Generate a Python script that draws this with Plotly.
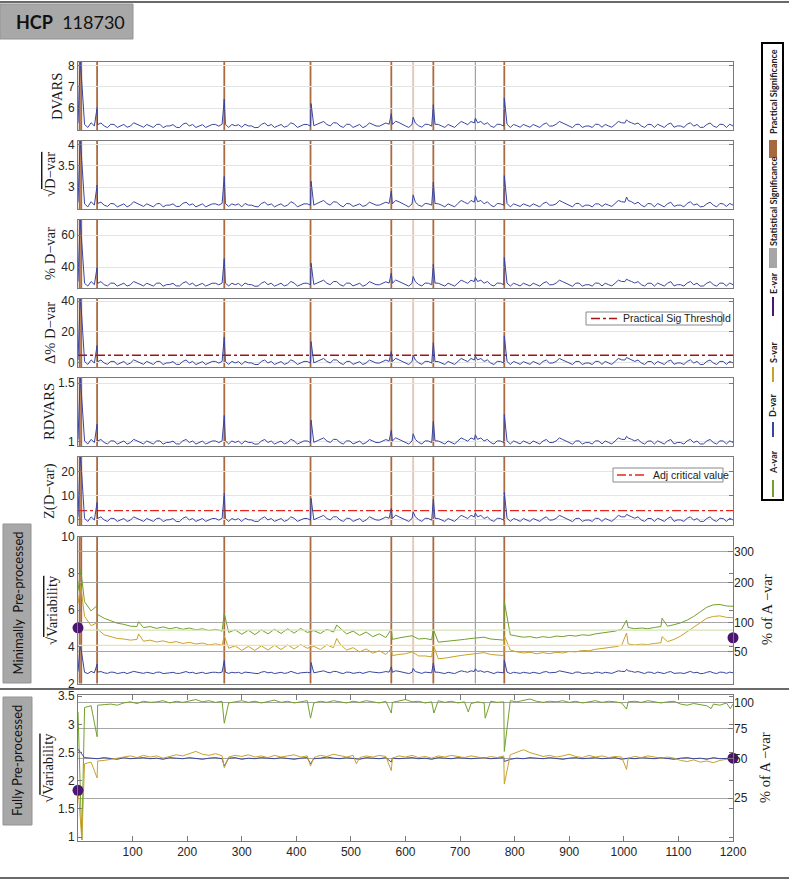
import plotly.graph_objects as go

W, H = 789, 881

# ---------------- data ----------------
# regular frame grid (every 12th volume), in-between samples and spikes listed separately
frames = list(range(0, 1201, 12))
mid_frames = list(range(18, 1200, 12))

top_spike_frames = [4, 6, 35, 268, 427, 574, 614, 651, 728, 781, 1005]

dvars = [
    5.31, 5.24, 5.32, 5.23, 5.17, 5.25, 5.10, 5.24, 5.16, 5.25,
    5.11, 5.18, 5.24, 5.09, 5.17, 5.11, 5.25, 5.17, 5.10, 5.23,
    5.16, 5.24, 5.25, 5.10, 5.18, 5.11, 5.17, 5.09, 5.24, 5.17,
    5.10, 5.24, 5.17, 5.25, 5.16, 5.24, 5.18, 5.31, 5.24, 5.32,
    5.17, 5.25, 5.10, 5.24, 5.17, 5.25, 5.16, 5.31, 5.24, 5.33,
    5.17, 5.24, 5.18, 5.25, 5.16, 5.24, 5.10, 5.17, 5.25, 5.31,
    5.38, 5.32, 5.24, 5.17, 5.25, 5.16, 5.10, 5.18, 5.24, 5.11,
    5.17, 5.24, 5.16, 5.25, 5.31, 5.17, 5.24, 5.10, 5.17, 5.25,
    5.11, 5.17, 5.24, 5.32, 5.38, 5.25, 5.17, 5.24, 5.10, 5.18,
    5.24, 5.11, 5.17, 5.25, 5.16, 5.10, 5.24, 5.17, 5.25, 5.10,
    5.17]
dvars_mid = [
    5.10, 5.17, 5.31, 5.09, 5.24, 5.18, 5.11, 5.32, 5.16,
    5.24, 5.10, 5.25, 5.17, 5.23, 5.09, 5.31, 5.24, 5.17, 5.10,
    5.24, 5.16, 5.25, 5.24, 5.23, 5.25, 5.17, 5.10, 5.31, 5.24,
    5.17, 5.11, 5.32, 5.10, 5.24, 5.16, 5.25, 5.38, 5.17, 5.31,
    5.10, 5.24, 5.18, 5.09, 5.31, 5.17, 5.24, 5.25, 5.39, 5.24,
    5.10, 5.31, 5.11, 5.24, 5.25, 5.17, 5.24, 5.10, 5.38, 5.23,
    5.31, 5.38, 5.32, 5.10, 5.24, 5.25, 5.24, 5.11, 5.17, 5.24,
    5.10, 5.31, 5.17, 5.38, 5.24, 5.09, 5.25, 5.16, 5.10, 5.24,
    5.24, 5.11, 5.38, 5.31, 5.32, 5.31, 5.10, 5.24, 5.25, 5.10,
    5.31, 5.17, 5.10, 5.32, 5.24, 5.11, 5.31, 5.10, 5.24, 5.25]
dvars_spikes = [8.17, 7.60, 6.03, 6.43, 6.22, 5.75, 5.58, 6.17, 5.54, 6.48, 5.46]

sqrt_dvar = [
    2.65, 2.61, 2.66, 2.62, 2.58, 2.62, 2.54, 2.61, 2.58, 2.62,
    2.55, 2.58, 2.61, 2.54, 2.58, 2.55, 2.62, 2.58, 2.54, 2.61,
    2.58, 2.61, 2.62, 2.55, 2.58, 2.54, 2.58, 2.55, 2.62, 2.58,
    2.54, 2.61, 2.58, 2.62, 2.58, 2.61, 2.58, 2.65, 2.62, 2.66,
    2.58, 2.62, 2.55, 2.61, 2.58, 2.62, 2.58, 2.65, 2.61, 2.66,
    2.58, 2.61, 2.58, 2.62, 2.58, 2.61, 2.54, 2.58, 2.62, 2.65,
    2.69, 2.66, 2.61, 2.58, 2.62, 2.58, 2.54, 2.58, 2.61, 2.55,
    2.58, 2.62, 2.58, 2.61, 2.65, 2.58, 2.62, 2.54, 2.58, 2.61,
    2.55, 2.58, 2.62, 2.66, 2.69, 2.61, 2.58, 2.62, 2.54, 2.58,
    2.61, 2.55, 2.58, 2.62, 2.58, 2.54, 2.61, 2.58, 2.62, 2.55,
    2.58]
sqrt_dvar_mid = [
    2.54, 2.58, 2.65, 2.55, 2.61, 2.58, 2.54, 2.66, 2.58,
    2.61, 2.54, 2.62, 2.58, 2.61, 2.55, 2.65, 2.61, 2.58, 2.54,
    2.61, 2.58, 2.62, 2.61, 2.61, 2.62, 2.58, 2.54, 2.65, 2.61,
    2.58, 2.55, 2.66, 2.54, 2.61, 2.58, 2.62, 2.69, 2.58, 2.65,
    2.54, 2.61, 2.58, 2.55, 2.65, 2.58, 2.61, 2.62, 2.69, 2.61,
    2.54, 2.65, 2.55, 2.61, 2.62, 2.58, 2.61, 2.54, 2.69, 2.61,
    2.65, 2.69, 2.66, 2.54, 2.61, 2.62, 2.61, 2.55, 2.58, 2.61,
    2.54, 2.65, 2.58, 2.69, 2.61, 2.54, 2.62, 2.58, 2.54, 2.61,
    2.61, 2.55, 2.69, 2.65, 2.66, 2.65, 2.54, 2.61, 2.62, 2.54,
    2.65, 2.58, 2.54, 2.66, 2.61, 2.55, 2.65, 2.54, 2.61, 2.62]
sqrt_dvar_spikes = [4.08, 3.80, 3.05, 3.25, 3.14, 2.91, 2.82, 3.12, 2.80, 3.27, 2.77]

pct_dvar = [
    30.9, 29.9, 31.0, 29.8, 29.0, 30.0, 28.1, 29.9, 28.9, 30.0,
    28.2, 29.0, 29.9, 28.0, 29.1, 28.2, 30.0, 29.0, 28.1, 29.8,
    28.9, 29.9, 30.0, 28.2, 29.0, 28.1, 29.1, 28.0, 29.9, 29.0,
    28.1, 29.9, 29.0, 30.0, 28.9, 29.9, 29.1, 30.9, 29.9, 31.0,
    29.0, 30.0, 28.2, 29.9, 29.0, 30.0, 28.9, 30.8, 29.9, 31.0,
    29.0, 29.9, 29.1, 30.0, 28.9, 29.9, 28.1, 29.0, 30.0, 30.9,
    31.8, 31.0, 29.9, 29.0, 30.0, 28.9, 28.1, 29.1, 29.9, 28.2,
    29.0, 29.9, 28.9, 30.0, 30.9, 29.0, 29.9, 28.1, 29.0, 30.0,
    28.2, 29.0, 29.9, 31.0, 31.8, 30.0, 29.0, 29.9, 28.1, 29.1,
    29.9, 28.2, 29.0, 30.0, 28.9, 28.1, 29.9, 29.0, 30.0, 28.2,
    29.0]
pct_dvar_mid = [
    28.1, 29.0, 30.9, 28.2, 29.9, 29.1, 28.1, 31.0, 29.0,
    29.9, 28.1, 30.0, 29.0, 29.8, 28.2, 30.9, 29.9, 29.0, 28.1,
    29.9, 28.9, 30.0, 29.9, 29.8, 30.0, 29.0, 28.1, 30.9, 29.9,
    29.0, 28.2, 31.0, 28.1, 29.9, 28.9, 30.0, 31.8, 29.0, 30.9,
    28.1, 29.9, 29.1, 28.0, 30.9, 29.0, 29.9, 30.0, 31.9, 29.9,
    28.1, 30.9, 28.2, 29.9, 30.0, 29.0, 29.9, 28.1, 31.8, 29.8,
    30.9, 31.8, 31.0, 28.1, 29.9, 30.0, 29.9, 28.2, 29.0, 29.9,
    28.1, 30.9, 29.0, 31.8, 29.9, 28.0, 30.0, 28.9, 28.1, 29.9,
    29.9, 28.2, 31.8, 30.9, 31.0, 30.9, 28.1, 29.9, 30.0, 28.1,
    30.9, 29.0, 28.1, 31.0, 29.9, 28.2, 30.9, 28.1, 29.9, 30.0]
pct_dvar_spikes = [69.6, 60.0, 40.0, 45.4, 42.5, 36.3, 34.1, 41.9, 33.5, 46.0, 32.5]

delta_pct_dvar = [
    1.9, 1.0, 2.0, 0.9, 0.0, 1.0, -1.0, 1.0, -0.1, 1.0,
    -0.9, 0.0, 1.0, -1.0, 0.1, -0.9, 1.0, 0.0, -1.0, 0.9,
    -0.1, 1.0, 1.0, -0.9, 0.0, -1.0, 0.1, -1.0, 1.0, 0.0,
    -1.0, 0.9, 0.0, 1.0, -0.1, 1.0, 0.1, 1.9, 1.0, 2.0,
    0.0, 1.0, -0.9, 0.9, 0.0, 1.0, -0.1, 1.9, 1.0, 2.0,
    0.0, 1.0, 0.1, 1.0, -0.1, 0.9, -1.0, 0.0, 1.0, 1.9,
    2.9, 2.0, 1.0, 0.0, 1.0, -0.1, -1.0, 0.1, 0.9, -0.9,
    0.0, 1.0, -0.1, 1.0, 1.9, 0.0, 1.0, -1.0, 0.0, 1.0,
    -0.9, 0.0, 1.0, 2.0, 2.9, 1.0, 0.0, 0.9, -1.0, 0.1,
    1.0, -0.9, 0.0, 1.0, -0.1, -1.0, 1.0, 0.0, 1.0, -0.9,
    0.0]
delta_pct_dvar_mid = [
    -1.0, 0.0, 1.9, -0.9, 1.0, 0.1, -1.0, 2.0, 0.0,
    1.0, -1.0, 1.0, 0.0, 0.9, -0.9, 1.9, 1.0, 0.0, -1.0,
    1.0, -0.1, 1.0, 1.0, 0.9, 1.0, 0.0, -1.0, 1.9, 1.0,
    0.0, -0.9, 2.0, -1.0, 1.0, -0.1, 1.0, 2.9, 0.0, 1.9,
    -1.0, 1.0, 0.1, -1.0, 1.9, 0.0, 1.0, 1.0, 3.0, 1.0,
    -1.0, 1.9, -0.9, 1.0, 1.0, 0.0, 1.0, -1.0, 2.9, 0.9,
    1.9, 2.9, 2.0, -1.0, 1.0, 1.0, 1.0, -0.9, 0.0, 1.0,
    -1.0, 1.9, 0.0, 2.9, 1.0, -1.0, 1.0, -0.1, -1.0, 1.0,
    1.0, -0.9, 2.9, 1.9, 2.0, 1.9, -1.0, 1.0, 1.0, -1.0,
    1.9, 0.0, -1.0, 2.0, 1.0, -0.9, 1.9, -1.0, 1.0, 1.0]
delta_pct_dvar_spikes = [41.3, 35.0, 11.3, 16.8, 13.8, 7.4, 5.1, 13.2, 4.5, 17.5, 3.5]

rdvars = [
    1.016, 1.003, 1.017, 1.002, 0.990, 1.004, 0.977, 1.003, 0.989, 1.004,
    0.978, 0.990, 1.003, 0.976, 0.991, 0.978, 1.004, 0.990, 0.977, 1.002,
    0.989, 1.003, 1.004, 0.978, 0.990, 0.977, 0.991, 0.976, 1.003, 0.990,
    0.977, 1.002, 0.990, 1.004, 0.989, 1.003, 0.991, 1.016, 1.003, 1.017,
    0.990, 1.004, 0.978, 1.002, 0.990, 1.004, 0.989, 1.015, 1.003, 1.017,
    0.990, 1.003, 0.991, 1.004, 0.989, 1.003, 0.977, 0.990, 1.004, 1.016,
    1.029, 1.017, 1.003, 0.990, 1.004, 0.989, 0.977, 0.991, 1.003, 0.978,
    0.990, 1.003, 0.989, 1.004, 1.016, 0.990, 1.003, 0.977, 0.990, 1.004,
    0.978, 0.990, 1.003, 1.017, 1.029, 1.004, 0.990, 1.002, 0.977, 0.991,
    1.003, 0.978, 0.990, 1.004, 0.989, 0.977, 1.003, 0.990, 1.004, 0.978,
    0.990]
rdvars_mid = [
    0.977, 0.990, 1.016, 0.978, 1.003, 0.991, 0.977, 1.017, 0.990,
    1.003, 0.977, 1.004, 0.990, 1.002, 0.978, 1.016, 1.003, 0.990, 0.977,
    1.003, 0.989, 1.004, 1.003, 1.002, 1.004, 0.990, 0.977, 1.016, 1.003,
    0.990, 0.978, 1.017, 0.977, 1.003, 0.989, 1.004, 1.029, 0.990, 1.016,
    0.977, 1.003, 0.991, 0.976, 1.016, 0.990, 1.003, 1.004, 1.030, 1.003,
    0.977, 1.016, 0.978, 1.003, 1.004, 0.990, 1.003, 0.977, 1.029, 1.002,
    1.016, 1.029, 1.017, 0.977, 1.003, 1.004, 1.003, 0.978, 0.990, 1.003,
    0.977, 1.016, 0.990, 1.029, 1.003, 0.976, 1.004, 0.989, 0.977, 1.003,
    1.003, 0.978, 1.029, 1.016, 1.017, 1.016, 0.977, 1.003, 1.004, 0.977,
    1.016, 0.990, 0.977, 1.017, 1.003, 0.978, 1.016, 0.977, 1.003, 1.004]
rdvars_spikes = [1.543, 1.43, 1.147, 1.222, 1.182, 1.095, 1.065, 1.173, 1.056, 1.23, 1.043]

z_dvar = [
    1.3, 0.6, 1.3, 0.6, 0.0, 0.7, -0.6, 0.6, -0.1, 0.7,
    -0.6, 0.0, 0.6, -0.7, 0.1, -0.6, 0.7, 0.0, -0.6, 0.6,
    -0.1, 0.6, 0.7, -0.6, 0.0, -0.7, 0.1, -0.6, 0.6, 0.0,
    -0.6, 0.6, 0.0, 0.7, -0.1, 0.6, 0.1, 1.3, 0.6, 1.3,
    0.0, 0.7, -0.6, 0.6, 0.0, 0.7, -0.1, 1.2, 0.6, 1.3,
    0.0, 0.6, 0.1, 0.7, -0.1, 0.6, -0.6, 0.0, 0.7, 1.3,
    1.9, 1.3, 0.6, 0.0, 0.7, -0.1, -0.6, 0.1, 0.6, -0.6,
    0.0, 0.6, -0.1, 0.7, 1.3, 0.0, 0.6, -0.6, 0.0, 0.7,
    -0.6, 0.0, 0.6, 1.3, 1.9, 0.7, 0.0, 0.6, -0.6, 0.1,
    0.6, -0.6, 0.0, 0.7, -0.1, -0.6, 0.6, 0.0, 0.7, -0.6,
    0.0]
z_dvar_mid = [
    -0.6, 0.0, 1.3, -0.6, 0.6, 0.1, -0.6, 1.3, 0.0,
    0.6, -0.6, 0.7, 0.0, 0.6, -0.7, 1.3, 0.6, 0.0, -0.6,
    0.6, -0.1, 0.7, 0.6, 0.6, 0.7, 0.0, -0.6, 1.3, 0.6,
    0.0, -0.6, 1.3, -0.6, 0.6, -0.1, 0.7, 1.9, 0.0, 1.3,
    -0.6, 0.6, 0.1, -0.7, 1.3, 0.0, 0.6, 0.7, 2.0, 0.6,
    -0.6, 1.3, -0.6, 0.6, 0.7, 0.0, 0.6, -0.6, 1.9, 0.6,
    1.3, 1.9, 1.3, -0.6, 0.6, 0.7, 0.6, -0.6, 0.0, 0.6,
    -0.6, 1.3, 0.0, 1.9, 0.6, -0.7, 0.7, -0.1, -0.6, 0.6,
    0.6, -0.6, 1.9, 1.3, 1.3, 1.3, -0.6, 0.6, 0.7, -0.6,
    1.3, 0.0, -0.6, 1.3, 0.6, -0.6, 1.3, -0.6, 0.6, 0.7]
z_dvar_spikes = [26.2, 22.0, 7.3, 11.0, 9.0, 4.8, 3.4, 8.6, 2.9, 11.4, 2.3]

practical_sig_threshold = 5.0
adj_critical_value = 3.9

# minimally pre-processed, sqrt(variability)
min_spike_frames = [5, 35, 111, 268, 474, 574, 651, 781, 1005, 1070]
avar_min = [
    7.05, 6.45, 5.95, 5.75, 5.55, 5.40, 5.28, 5.22, 5.12, 5.10,
    5.04, 5.10, 5.00, 5.08, 4.98, 5.05, 4.95, 5.02, 4.92, 4.98,
    4.88, 4.95, 4.85, 4.78, 4.92, 4.68, 4.90, 4.66, 4.92, 4.70,
    4.95, 4.72, 4.98, 4.74, 5.00, 4.78, 4.88, 4.72, 4.95, 4.80,
    5.02, 4.70, 4.85, 4.62, 4.80, 4.55, 4.70, 4.50, 4.40, 4.48,
    4.52, 4.60, 4.42, 4.45, 4.38, 4.25, 4.28, 4.30, 4.35, 4.40,
    4.45, 4.50, 4.52, 4.42, 4.38, 4.36, 4.65, 4.58, 4.52, 4.55,
    4.48, 4.55, 4.50, 4.58, 4.55, 4.62, 4.58, 4.65, 4.62, 4.70,
    4.75, 4.80, 4.85, 4.95, 5.05, 4.98, 5.02, 4.98, 5.05, 5.10,
    5.12, 5.20, 5.30, 5.45, 5.65, 5.90, 6.15, 6.28, 6.30, 6.22,
    6.20]
avar_min_spikes = [8.2, 6.24, 5.36, 5.82, 5.18, 4.95, 4.95, 6.45, 5.45, 5.55]
svar_min = [
    6.35, 5.65, 5.15, 4.95, 4.65, 4.55, 4.45, 4.42, 4.36, 4.40,
    4.30, 4.36, 4.26, 4.32, 4.22, 4.28, 4.18, 4.24, 4.15, 4.20,
    4.10, 4.16, 4.08, 3.92, 4.05, 3.80, 4.02, 3.80, 4.05, 3.82,
    4.08, 3.85, 4.10, 3.88, 4.12, 3.92, 4.02, 3.85, 4.10, 3.95,
    4.15, 3.82, 3.95, 3.72, 3.88, 3.65, 3.78, 3.58, 3.52, 3.58,
    3.62, 3.72, 3.50, 3.50, 3.45, 3.35, 3.38, 3.42, 3.50, 3.55,
    3.60, 3.65, 3.68, 3.58, 3.55, 3.52, 3.82, 3.72, 3.66, 3.70,
    3.62, 3.68, 3.62, 3.70, 3.66, 3.74, 3.72, 3.80, 3.78, 3.86,
    3.90, 3.95, 4.00, 4.08, 4.15, 4.10, 4.14, 4.12, 4.18, 4.22,
    4.28, 4.40, 4.58, 4.82, 5.05, 5.30, 5.55, 5.65, 5.68, 5.60,
    5.58]
svar_min_spikes = [7.3, 5.30, 4.70, 4.60, 4.45, 3.90, 4.09, 4.60, 4.75, 4.55]
avar_mean_min = 4.9
svar_mean_min = 4.08
evar_min = [5.03, 4.49]          # left / right markers
avar_ref_min = 5.3               # sqrt of A-var reference (100 %)
pct_ticks_min = [50, 100, 200, 300]

# fully pre-processed, sqrt(variability)
avar_full = [
    3.22, 3.30, 3.33, 3.34, 3.35, 3.36, 3.34, 3.38, 3.40, 3.37,
    3.41, 3.39, 3.40, 3.42, 3.38, 3.41, 3.39, 3.42, 3.44, 3.40,
    3.42, 3.39, 3.41, 3.38, 3.40, 3.42, 3.39, 3.41, 3.38, 3.40,
    3.43, 3.39, 3.41, 3.38, 3.40, 3.42, 3.38, 3.41, 3.39, 3.42,
    3.40, 3.38, 3.41, 3.39, 3.42, 3.40, 3.38, 3.41, 3.39, 3.42,
    3.44, 3.40, 3.41, 3.38, 3.40, 3.42, 3.39, 3.41, 3.38, 3.40,
    3.37, 3.40, 3.38, 3.41, 3.39, 3.40, 3.42, 3.40, 3.43, 3.45,
    3.41, 3.39, 3.41, 3.40, 3.42, 3.39, 3.41, 3.38, 3.40, 3.42,
    3.39, 3.41, 3.40, 3.38, 3.40, 3.41, 3.39, 3.42, 3.40, 3.38,
    3.40, 3.41, 3.36, 3.34, 3.37, 3.35, 3.33, 3.36, 3.34, 3.38,
    3.36]
avar_full_spike_frames = [7, 35, 268, 426, 574, 652, 715, 746, 781, 1005, 1160, 1195]
avar_full_spikes = [0.95, 2.78, 3.02, 3.11, 3.20, 3.20, 3.22, 3.11, 2.52, 3.27, 3.28, 3.28]
svar_full = [
    1.90, 2.30, 2.33, 2.35, 2.36, 2.38, 2.40, 2.42, 2.44, 2.41,
    2.45, 2.42, 2.44, 2.40, 2.43, 2.46, 2.44, 2.48, 2.52, 2.47,
    2.45, 2.48, 2.44, 2.42, 2.45, 2.43, 2.46, 2.42, 2.44, 2.41,
    2.45, 2.42, 2.44, 2.46, 2.42, 2.44, 2.41, 2.45, 2.43, 2.47,
    2.44, 2.42, 2.45, 2.41, 2.44, 2.42, 2.45, 2.43, 2.40, 2.44,
    2.42, 2.45, 2.41, 2.43, 2.40, 2.44, 2.42, 2.45, 2.43, 2.41,
    2.44, 2.42, 2.40, 2.43, 2.41, 2.44, 2.46, 2.50, 2.55, 2.50,
    2.46, 2.43, 2.45, 2.42, 2.44, 2.47, 2.43, 2.41, 2.45, 2.42,
    2.44, 2.41, 2.43, 2.42, 2.40, 2.43, 2.41, 2.44, 2.42, 2.40,
    2.42, 2.40, 2.36, 2.34, 2.37, 2.33, 2.35, 2.32, 2.36, 2.38,
    2.40]
svar_full_spike_frames = [7, 35, 268, 426, 510, 574, 781, 1005]
svar_full_spikes = [0.95, 2.05, 2.23, 2.26, 2.30, 2.18, 1.94, 2.20]
dvar_full = [
    2.56, 2.41, 2.40, 2.39, 2.41, 2.40, 2.38, 2.41, 2.39, 2.40,
    2.41, 2.39, 2.40, 2.38, 2.41, 2.40, 2.39, 2.41, 2.40, 2.38,
    2.40, 2.41, 2.39, 2.40, 2.41, 2.38, 2.40, 2.39, 2.41, 2.40,
    2.39, 2.41, 2.40, 2.38, 2.40, 2.41, 2.39, 2.40, 2.42, 2.40,
    2.39, 2.41, 2.40, 2.38, 2.41, 2.40, 2.39, 2.41, 2.40, 2.39,
    2.40, 2.41, 2.39, 2.40, 2.38, 2.41, 2.40, 2.39, 2.41, 2.40,
    2.39, 2.40, 2.41, 2.39, 2.40, 2.41, 2.38, 2.40, 2.39, 2.41,
    2.40, 2.39, 2.41, 2.40, 2.38, 2.40, 2.41, 2.39, 2.40, 2.41,
    2.39, 2.40, 2.41, 2.38, 2.40, 2.39, 2.41, 2.40, 2.39, 2.41,
    2.40, 2.38, 2.40, 2.41, 2.39, 2.40, 2.38, 2.41, 2.39, 2.40,
    2.40]
dvar_full_spike_frames = [268, 426, 574, 781]
dvar_full_spikes = [2.26, 2.30, 2.33, 2.34]
evar_full = [1.83, 2.40]
avar_ref_full = 3.38
pct_ticks_full = [25, 50, 75, 100]

# significant volumes
practical_frames = [3, 6, 35, 268, 426, 574, 651, 781]
weak_practical_frames = [614]
statistical_frames = [728]

x_ticks = [100, 200, 300, 400, 500, 600, 700, 800, 900, 1000, 1100, 1200]

# ---------------- style ----------------
BLUE = "#3845a0"
GREEN = "#74a02c"
GOLD = "#c9a12a"
PURPLE = "#4a1670"
BROWN = "#ad6a3e"
TAN = "rgba(173,106,62,0.35)"
SIG_GRAY = "#a0a0a0"
AX = "#7a7a7a"
SANS = "Liberation Sans, Arial, sans-serif"
SERIF = "Liberation Serif, Times New Roman, serif"
LABEL = "Lato, Open Sans, sans-serif"

X0, X1 = 78, 733
PANELS = [(62, 130), (141, 209), (220, 288), (299, 367), (378, 446),
          (457, 525), (536.5, 683.5), (694.5, 841)]
Y_CFG = [
    dict(range=[4.98, 8.17], tickvals=[6, 7, 8]),
    dict(range=[2.49, 4.08], tickvals=[3, 3.5, 4]),
    dict(range=[26.9, 69.6], tickvals=[40, 60]),
    dict(range=[-2.6, 41.3], tickvals=[0, 20, 40]),
    dict(range=[0.96, 1.543], tickvals=[1, 1.5]),
    dict(range=[-2.1, 26.2], tickvals=[0, 10, 20]),
    dict(range=[2, 10], tickvals=[2, 4, 6, 8, 10]),
    dict(range=[0.93, 3.53], tickvals=[1, 1.5, 2, 2.5, 3, 3.5]),
]
OVER = "<span style='text-decoration:overline'>{}</span>"
Y_TITLES = ["DVARS", "√" + OVER.format("D−var"), "% D−var", "Δ% D−var",
            "RDVARS", "Z(D−var)", "√" + OVER.format("Variability"),
            "√" + OVER.format("Variability")]
Y_TITLE_X = [57, 50, 50, 50, 49, 50, 52, 48]


def xd(px):
    return px / W


def yd(py):
    return 1 - py / H


def sid(k):
    return "" if k == 1 else str(k)


def merge(ys, sx, sy, mids=None):
    xs_all = frames + sx + (mid_frames if mids else [])
    ys_all = ys + sy + (mids or [])
    pts = sorted(zip(xs_all, ys_all))
    return [p[0] for p in pts], [p[1] for p in pts]


def line_trace(k, xs, ys, color, width=1.0, dash=None, yax=None):
    return go.Scatter(x=xs, y=ys, mode="lines", xaxis="x" + sid(k),
                      yaxis=yax or ("y" + sid(k)),
                      line=dict(color=color, width=width, dash=dash),
                      hoverinfo="skip", showlegend=False)


fig = go.Figure()

# top six D-var panels
top_series = [(dvars, dvars_mid, dvars_spikes), (sqrt_dvar, sqrt_dvar_mid, sqrt_dvar_spikes),
              (pct_dvar, pct_dvar_mid, pct_dvar_spikes),
              (delta_pct_dvar, delta_pct_dvar_mid, delta_pct_dvar_spikes),
              (rdvars, rdvars_mid, rdvars_spikes), (z_dvar, z_dvar_mid, z_dvar_spikes)]
for k, (ys, mids, sp) in enumerate(top_series, start=1):
    if k == 4:
        fig.add_trace(line_trace(k, [frames[0], frames[-1]],
                                 [practical_sig_threshold, practical_sig_threshold],
                                 "#a31515", 1.3, "dashdot"))
    if k == 6:
        fig.add_trace(line_trace(k, [frames[0], frames[-1]],
                                 [adj_critical_value, adj_critical_value],
                                 "#e0281c", 1.3, "dashdot"))
    xs, yv = merge(ys, top_spike_frames, sp, mids)
    fig.add_trace(line_trace(k, xs, yv, BLUE))

# minimally pre-processed (reference lines on the overlaid % axis, same range as the left axis)
fig.add_trace(line_trace(7, [frames[0], frames[-1]], [avar_mean_min, avar_mean_min], "#d6e4b8", 1.2, yax="y9"))
fig.add_trace(line_trace(7, [frames[0], frames[-1]], [svar_mean_min, svar_mean_min], "#eee0a8", 1.2, yax="y9"))
xs, yv = merge(avar_min, min_spike_frames, avar_min_spikes)
fig.add_trace(line_trace(7, xs, yv, GREEN))
xs, yv = merge(svar_min, min_spike_frames, svar_min_spikes)
fig.add_trace(line_trace(7, xs, yv, GOLD))
xs, yv = merge(sqrt_dvar, top_spike_frames, sqrt_dvar_spikes, sqrt_dvar_mid)
fig.add_trace(line_trace(7, xs, yv, BLUE))

# fully pre-processed
xs, yv = merge(avar_full, avar_full_spike_frames, avar_full_spikes)
fig.add_trace(line_trace(8, xs, yv, GREEN))
xs, yv = merge(dvar_full, dvar_full_spike_frames, dvar_full_spikes)
fig.add_trace(line_trace(8, xs, yv, BLUE))
xs, yv = merge(svar_full, svar_full_spike_frames, svar_full_spikes)
fig.add_trace(line_trace(8, xs, yv, GOLD))

# E-var markers (on the overlaid % axes)
for k, ev, yax in ((7, evar_min, "y9"), (8, evar_full, "y10")):
    fig.add_trace(go.Scatter(x=[frames[0], frames[-1]], y=ev, mode="markers",
                             xaxis="x" + sid(k), yaxis=yax, cliponaxis=False,
                             marker=dict(color=PURPLE, size=11, symbol="circle"),
                             hoverinfo="skip", showlegend=False))

layout = {}
tick_font = dict(family=SANS, size=12, color="#262626")
for k, (top, bot) in enumerate(PANELS, start=1):
    xa = dict(domain=[xd(X0), xd(X1)], range=[0, 1200], anchor="y" + sid(k), automargin=False,
              showline=True, mirror=True, linecolor=AX, linewidth=1,
              showgrid=False, zeroline=False, showticklabels=False, ticks="")
    if k == 8:
        xa.update(showticklabels=True, ticks="inside", ticklen=5, tickcolor=AX,
                  tickvals=x_ticks, mirror="ticks", tickfont=tick_font)
    layout["xaxis" + sid(k)] = xa
    ya = dict(domain=[yd(bot), yd(top)], anchor="x" + sid(k), showline=True, automargin=False,
              mirror="ticks", linecolor=AX, linewidth=1, zeroline=False,
              ticks="inside", ticklen=4, tickcolor=AX, tickfont=tick_font,
              showgrid=k < 7, gridcolor="#e4e4e4", **Y_CFG[k - 1])
    layout["yaxis" + sid(k)] = ya

for k, ref, pct, new in ((7, avar_ref_min, pct_ticks_min, 9), (8, avar_ref_full, pct_ticks_full, 10)):
    layout["yaxis" + str(new)] = dict(
        overlaying="y" + str(k), anchor="x" + str(k), side="right", automargin=False,
        range=Y_CFG[k - 1]["range"],
        tickvals=[ref * (p / 100) ** 0.5 for p in pct], ticktext=[str(p) for p in pct],
        ticks="inside", ticklen=5, tickcolor=AX, tickfont=tick_font,
        showgrid=True, gridcolor="#a6a6a6", zeroline=False, showline=False)

shapes = []
annotations = []

# significance markers (top seven panels)
for k in range(1, 8):
    for group, color, width in ((practical_frames, BROWN, 1.8), (weak_practical_frames, TAN, 2),
                                (statistical_frames, SIG_GRAY, 1.2)):
        for f in group:
            shapes.append(dict(type="line", xref="x" + sid(k), yref="y" + sid(k) + " domain",
                               x0=f, x1=f, y0=0, y1=1, layer="below",
                               line=dict(color=color, width=width)))

# y titles
for k, (top, bot) in enumerate(PANELS, start=1):
    annotations.append(dict(text=Y_TITLES[k - 1], x=xd(Y_TITLE_X[k - 1]), y=yd((top + bot) / 2),
                            xref="paper", yref="paper", textangle=-90, showarrow=False,
                            xanchor="center", yanchor="middle",
                            font=dict(family=SERIF, size=14.5, color="#1a1a1a")))
for py, px in ((610, 767), (768, 765)):
    annotations.append(dict(text="% of A −var", x=xd(px), y=yd(py), xref="paper", yref="paper",
                            textangle=-90, showarrow=False, xanchor="center", yanchor="middle",
                            font=dict(family=SERIF, size=14.5, color="#1a1a1a")))

# in-panel legend boxes
for (bx0, by0, bx1, by1), (lx0, lx1), color, label in (
        ((586, 312, 722, 325), (591, 617), "#a31515", "Practical Sig Threshold"),
        ((613, 468, 723, 482), (617, 647), "#e0281c", "Adj critical value")):
    shapes.append(dict(type="rect", xref="paper", yref="paper", x0=xd(bx0), x1=xd(bx1),
                       y0=yd(by1), y1=yd(by0), fillcolor="white",
                       line=dict(color="#8a8a8a", width=1), layer="above"))
    ym = yd((by0 + by1) / 2)
    shapes.append(dict(type="line", xref="paper", yref="paper", x0=xd(lx0), x1=xd(lx1),
                       y0=ym, y1=ym, line=dict(color=color, width=1.3, dash="dashdot"),
                       layer="above"))
    annotations.append(dict(text=label, x=xd(lx1 + 4), y=ym, xref="paper", yref="paper",
                            xanchor="left", yanchor="middle", showarrow=False,
                            font=dict(family=SANS, size=10.5, color="#222")))

# right legend
shapes.append(dict(type="rect", xref="paper", yref="paper", x0=xd(762), x1=xd(783),
                   y0=yd(500), y1=yd(43), line=dict(color="black", width=2)))
for (a, b), color, center, label in (((480, 497), GREEN, 462, "A-var"),
                                     ((422, 437), BLUE, 406, "D-var"),
                                     ((367, 382), GOLD, 352, "S-var"),
                                     ((297, 316), PURPLE, 283, "E-var")):
    shapes.append(dict(type="line", xref="paper", yref="paper", x0=xd(773), x1=xd(773),
                       y0=yd(b), y1=yd(a), line=dict(color=color, width=2)))
    annotations.append(dict(text="<b>%s</b>" % label, x=xd(773), y=yd(center), xref="paper",
                            yref="paper", textangle=-90, showarrow=False,
                            xanchor="center", yanchor="middle",
                            font=dict(family=LABEL, size=9, color="#222")))
for (a, b), color, center, label in (((248, 268), "#a6a6a6", 202, "Statistical Significance"),
                                     ((140, 158), "#a8683e", 92, "Practical Significance")):
    shapes.append(dict(type="rect", xref="paper", yref="paper", x0=xd(769), x1=xd(777),
                       y0=yd(b), y1=yd(a), fillcolor=color, line=dict(width=0)))
    annotations.append(dict(text="<b>%s</b>" % label, x=xd(773), y=yd(center), xref="paper",
                            yref="paper", textangle=-90, showarrow=False,
                            xanchor="center", yanchor="middle",
                            font=dict(family=LABEL, size=9, color="#222")))

# header / side boxes and separators
for x0, y0, x1, y1 in ((0, 4, 133, 39), (3, 524, 31, 683), (3, 697, 32, 825)):
    shapes.append(dict(type="rect", xref="paper", yref="paper", x0=xd(x0), x1=xd(x1),
                       y0=yd(y1), y1=yd(y0), fillcolor="#a8a8a8",
                       line=dict(color="#939393", width=1)))
annotations.append(dict(text="<b>HCP</b>\u00a0\u00a0118730", x=xd(14), y=yd(21.5), xref="paper",
                        yref="paper", xanchor="left", yanchor="middle", showarrow=False,
                        font=dict(family=LABEL, size=18, color="#111")))
for label, py in (("Minimally  Pre-processed", 603.5), ("Fully Pre-processed", 761)):
    annotations.append(dict(text=label, x=xd(17), y=yd(py), xref="paper", yref="paper",
                            textangle=-90, showarrow=False, xanchor="center", yanchor="middle",
                            font=dict(family=LABEL, size=13, color="#111")))
for py in (2, 689, 878):
    shapes.append(dict(type="line", xref="paper", yref="paper", x0=0, x1=1, y0=yd(py), y1=yd(py),
                       line=dict(color="#6a6a6a", width=2)))

fig.update_layout(
    width=W, height=H, margin=dict(l=0, r=0, t=0, b=0),
    paper_bgcolor="white", plot_bgcolor="white", showlegend=False,
    shapes=shapes, annotations=annotations, **layout)

fig.write_html("out.html", config={"displayModeBar": False},
               post_script="document.body.style.margin = '0';")
